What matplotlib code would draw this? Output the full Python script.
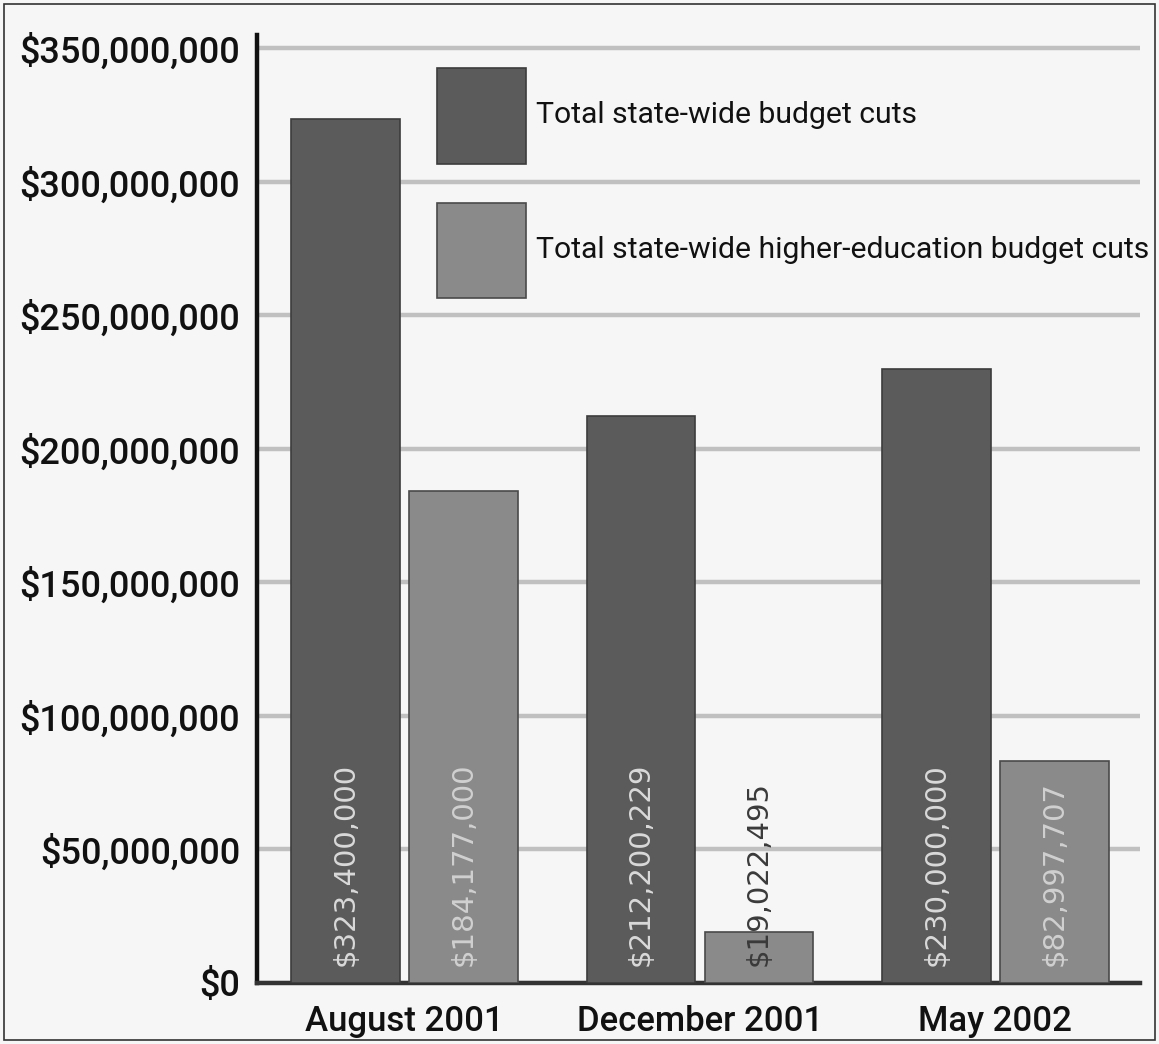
import matplotlib
matplotlib.use("Agg")
import matplotlib.pyplot as plt
import numpy as np
from matplotlib.patches import Rectangle
from matplotlib.ticker import FuncFormatter, MultipleLocator

categories = ["August 2001", "December 2001", "May 2002"]
total_cuts = [323400000, 212200229, 230000000]
higher_ed_cuts = [184177000, 19022495, 82997707]
total_labels = ["$323,400,000", "$212,200,229", "$230,000,000"]
higher_ed_labels = ["$184,177,000", "$19,022,495", "$82,997,707"]
series_names = ["Total state-wide budget cuts",
                "Total state-wide higher-education budget cuts"]

W, H = 1159, 1044
fig = plt.figure(figsize=(W / 100, H / 100), dpi=100, facecolor="#f6f6f6")
ax = fig.add_axes([257 / W, 1 - 983 / H, (1140 - 257) / W, (983 - 35) / H])
ax.set_facecolor("#f6f6f6")

x = np.arange(len(categories))
bw = 0.368
off = 0.2
dark = "#5b5b5b"
light = "#8a8a8a"

b1 = ax.bar(x - off, total_cuts, bw, color=dark, edgecolor="#3c3c3c", lw=1.2, zorder=3,
            label=series_names[0])
b2 = ax.bar(x + off, higher_ed_cuts, bw, color=light, edgecolor="#4a4a4a", lw=1.2, zorder=3,
            label=series_names[1])

lab_font = dict(family="DejaVu Sans", size=21)
for xi, lab in zip(x - off, total_labels):
    ax.text(xi, 6.5e6, lab, rotation=90, ha="center", va="bottom", color="#d9d9d9",
            zorder=5, **lab_font)
for xi, lab, v in zip(x + off, higher_ed_labels, higher_ed_cuts):
    col = "#d0d0d0" if v > 60e6 else "#3a3a3a"
    ax.text(xi, 6.5e6, lab, rotation=90, ha="center", va="bottom", color=col,
            zorder=5, **lab_font)

ax.set_xlim(-0.5, 2.49)
ax.set_ylim(0, 355e6)
ax.yaxis.set_major_locator(MultipleLocator(50e6))
ax.yaxis.set_major_formatter(FuncFormatter(lambda v, p: "${:,.0f}".format(v)))
ax.grid(axis="y", color="#c0c0c0", lw=3.2, zorder=0)
ax.set_axisbelow(True)

ax.set_xticks(x)
ax.set_xticklabels(categories)
ax.tick_params(axis="x", length=0, pad=16)
ax.tick_params(axis="y", length=0, pad=12)
for lbl in ax.get_yticklabels():
    lbl.set_fontfamily("Roboto")
    lbl.set_fontsize(26)
    lbl.set_fontweight(500)
    lbl.set_color("#111111")
for lbl in ax.get_xticklabels():
    lbl.set_fontfamily("Roboto")
    lbl.set_fontsize(25)
    lbl.set_fontweight(500)
    lbl.set_color("#111111")

for s in ["top", "right"]:
    ax.spines[s].set_visible(False)
ax.spines["left"].set_linewidth(3.2)
ax.spines["left"].set_color("#111111")
ax.spines["bottom"].set_linewidth(3.2)
ax.spines["bottom"].set_color("#333333")

leg = ax.legend(handles=[b1, b2], loc="upper left",
                bbox_to_anchor=((437 - 257) / (1140 - 257), 1 - (68 - 35) / (983 - 35)),
                frameon=False, borderpad=0, borderaxespad=0,
                handlelength=2.95, handleheight=4.5, labelspacing=1.3, handletextpad=0.33,
                prop={"family": "Roboto", "size": 21.7})
for t in leg.get_texts():
    t.set_color("#111111")

fig.patches.append(Rectangle((4 / W, 4 / H), 1 - 8 / W, 1 - 8 / H, transform=fig.transFigure,
                             fill=False, edgecolor="#333333", lw=1.2))

fig.savefig("out.png", dpi=100, facecolor=fig.get_facecolor())
